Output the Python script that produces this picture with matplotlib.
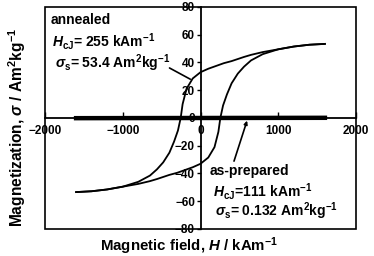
import matplotlib
matplotlib.use("Agg")
import matplotlib.pyplot as plt
from matplotlib.patches import Rectangle

plt.rcParams['font.family'] = ['Liberation Sans', 'DejaVu Sans']
plt.rcParams['font.weight'] = 'bold'
plt.rcParams['mathtext.fontset'] = 'custom'
plt.rcParams['mathtext.rm'] = 'Liberation Sans:bold'
plt.rcParams['mathtext.it'] = 'Liberation Sans:bold:italic'
plt.rcParams['mathtext.bf'] = 'Liberation Sans:bold'

# annealed sample, descending branch (from +H to -H)
h_down = [1600, 1400, 1200, 1000, 800, 650, 560, 480, 400, 300, 200, 100, 0,
          -100, -180, -230, -255, -290, -340, -400, -480, -560, -650, -800,
          -1000, -1200, -1400, -1600]
m_down = [53.4, 52.8, 51.5, 49.5, 47.5, 45.5, 44, 42.5, 41, 39.5, 37.5, 35.5, 33,
          28.5, 21, 10, 0, -9, -17, -25, -32, -37, -41.5, -46,
          -49.5, -51.5, -52.8, -53.4]
# annealed sample, ascending branch (from -H to +H)
h_up = [-1600, -1400, -1200, -1000, -800, -650, -560, -480, -400, -300, -200, -100, 0,
        100, 180, 230, 255, 290, 340, 400, 480, 560, 650, 800,
        1000, 1200, 1400, 1600]
m_up = [-53.4, -52.8, -51.5, -49.5, -47.5, -45.5, -44, -42.5, -41, -39.5, -37.5, -35.5, -33,
        -28.5, -21, -10, 0, 9, 17, 25, 32, 37, 41.5, 46,
        49.5, 51.5, 52.8, 53.4]
# as-prepared sample (nearly flat)
h_asp = [-1600, 1600]
m_asp = [-0.132, 0.132]

x_ticks = [-2000, -1000, 0, 1000, 2000]
y_ticks = [-80, -60, -40, -20, 0, 20, 40, 60, 80]

fig = plt.figure(figsize=(3.74, 2.56), dpi=100)
ax = fig.add_axes([0.1203, 0.1055, 0.8316, 0.8672])

ax.plot(h_down, m_down, color='black', lw=1.3)
ax.plot(h_up, m_up, color='black', lw=1.3)
ax.plot(h_asp, m_asp, color='black', lw=3.2)

ax.set_xlim(-2000, 2000)
ax.set_ylim(-80, 80)
ax.set_xticks(x_ticks)
ax.set_yticks(y_ticks)

ax.spines['left'].set_position(('data', 0))
ax.spines['bottom'].set_position(('data', 0))
ax.spines['top'].set_visible(False)
ax.spines['right'].set_visible(False)
ax.spines['left'].set_linewidth(1.3)
ax.spines['bottom'].set_linewidth(1.3)
ax.add_patch(Rectangle((0, 0), 1, 1, transform=ax.transAxes, fill=False,
                       lw=1.2, color='black', clip_on=False))

ax.tick_params(axis='x', direction='in', length=4, width=1, labelsize=8.5, pad=5)
ax.tick_params(axis='y', direction='out', length=3, width=1, labelsize=8.5, pad=1)
for lab in ax.get_xticklabels() + ax.get_yticklabels():
    lab.set_fontweight('bold')

fig.text(0.045, 0.5, r'Magnetization, $\sigma$ / Am$^2$kg$^{-1}$', rotation=90,
         ha='center', va='center', fontsize=11.2, fontweight='bold')
fig.text(0.505, 0.037, r'Magnetic field, $H$ / kAm$^{-1}$',
         ha='center', va='center', fontsize=10.8, fontweight='bold')

# annealed annotation
fs = 10
fig.text(51 / 374, 1 - 20 / 256, 'annealed', fontsize=fs, fontweight='bold', va='center')
fig.text(52 / 374, 1 - 42 / 256, r'$H_{\rm cJ}$= 255 kAm$^{-1}$', fontsize=fs, va='center')
fig.text(55 / 374, 1 - 63 / 256, r'$\sigma_{\rm s}$= 53.4 Am$^2$kg$^{-1}$', fontsize=fs, va='center')
ax.annotate('', xy=(-100, 27), xytext=(-430, 37),
            arrowprops=dict(arrowstyle='-', color='black', lw=1.2))

# as-prepared annotation
fig.text(210 / 374, 1 - 171 / 256, 'as-prepared', fontsize=fs, fontweight='bold', va='center')
fig.text(213 / 374, 1 - 191 / 256, r'$H_{\rm cJ}$=111 kAm$^{-1}$', fontsize=fs, va='center')
fig.text(215 / 374, 1 - 211 / 256, r'$\sigma_{\rm s}$= 0.132 Am$^2$kg$^{-1}$', fontsize=fs, va='center')
ax.annotate('', xy=(610, 0), xytext=(420, -33),
            arrowprops=dict(arrowstyle='-|>', color='black', lw=1.2, mutation_scale=5))

fig.savefig('out.png', dpi=100)
